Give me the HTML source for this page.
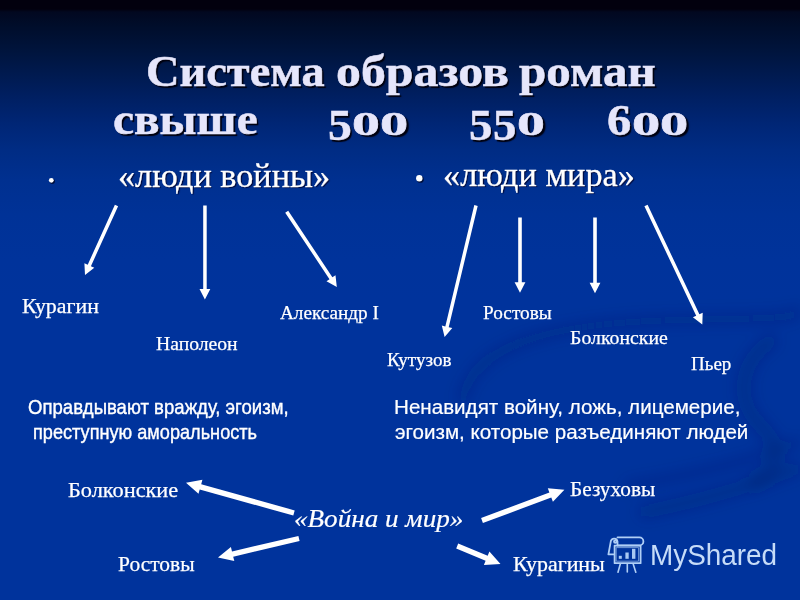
<!DOCTYPE html>
<html lang="ru">
<head>
<meta charset="utf-8">
<title>Система образов роман</title>
<style>
  html, body { margin: 0; padding: 0; }
  body {
    width: 800px; height: 600px; overflow: hidden; position: relative;
    background: linear-gradient(to bottom,#02000e 0,#02000e 9px,#020820 12px,#000d2a 25px,#00143c 50px,#001a50 75px,#002064 100px,#002676 125px,#002c84 150px,#003090 180px,#003297 215px,#00339b 260px,#00339c 300px,#00339c 600px);
    font-family: "Liberation Serif", serif;
    color: #fff;
  }
  h1, p { margin: 0; font: inherit; }
  .abs { position: absolute; white-space: nowrap; line-height: 1; }
  .title {
    font-family: "Liberation Serif", serif; font-weight: bold; font-size: 44px;
    color: #e6e6fb; -webkit-text-stroke: 0.5px #e6e6fb; text-shadow: 1.7px 1.7px 1px #00000e;
    transform-origin: 0 0;
  }
  .d5 { font-size: 45px; }
  .d0 { font-size: 34px; }
  .h2 { font-size: 34.5px; color: #fff; -webkit-text-stroke: 0.3px #fff; text-shadow: 1.2px 1.2px 1px rgba(0,0,40,0.85); transform-origin: 0 0; }
  .lbl { font-size: 19.5px; color: #fff; -webkit-text-stroke: 0.25px #fff; transform-origin: 0 0; }
  #l1 { font-size: 21px; }
  #t2a { font-size: 44px; }
  .lbl2 { font-size: 21.5px; color: #fff; -webkit-text-stroke: 0.25px #fff; transform-origin: 0 0; }
  .sans { font-family: "Liberation Sans", sans-serif; font-size: 21px; color: #fff; transform-origin: 0 0; }
  .sr { font-size: 20px; -webkit-text-stroke: 0.2px #fff; }
  #s1, #s2 { -webkit-text-stroke: 0.4px #fff; }
  .it { font-style: italic; font-size: 26px; -webkit-text-stroke: 0.2px #fff; transform-origin: 0 0; }
  .logo { font-family: "Liberation Sans", sans-serif; font-size: 29.5px; color: #c6dcf8; transform-origin: 0 0; }
  svg { position: absolute; left: 0; top: 0; }
</style>
</head>
<body>
<svg id="bg" width="800" height="600" viewBox="0 0 800 600">
  <defs>
    <filter id="blur"><feGaussianBlur stdDeviation="7"/></filter>
  </defs>
  <g fill="none" stroke="#00235f" stroke-opacity="0.26" filter="url(#blur)">
    <path d="M462 402 C 470 350, 540 322, 680 320 S 780 316, 800 312" stroke-width="10"/>
    <path d="M775 338 C 738 362, 735 400, 760 425 C 785 450, 780 470, 750 485" stroke-width="14"/>
    <path d="M800 441 C 760 458, 700 474, 625 486" stroke-width="8"/>
    <path d="M800 467 C 750 487, 700 501, 640 513" stroke-width="13"/>
  </g>
</svg>

<h1>
<span class="abs title" id="t1a" style="left:146.1px; top:50.1px; transform:scaleX(1.055);">Система</span>
<span class="abs title" id="t1b" style="left:336.3px; top:50.1px; transform:scaleX(1.133);">образов</span>
<span class="abs title" id="t1c" style="left:518.9px; top:50.1px; transform:scaleX(1.115);">роман</span>
<span class="abs title" id="t2a" style="left:113.0px; top:98.3px; transform:scaleX(1.077);">свыше</span>
<span class="num"><span class="abs title d5" id="n1" style="left:327.6px; top:103.4px; transform:scaleX(1.06);">5</span><span class="abs title d0" id="n2" style="left:352.2px; top:106.6px; transform:scaleX(1.64);">0</span><span class="abs title d0" id="n3" style="left:380.4px; top:106.6px; transform:scaleX(1.66);">0</span></span>
<span class="num"><span class="abs title d5" id="n4" style="left:468.8px; top:103.4px; transform:scaleX(1.04);">5</span><span class="abs title d5" id="n5" style="left:492.6px; top:103.4px; transform:scaleX(1.04);">5</span><span class="abs title d0" id="n6" style="left:517.2px; top:106.6px; transform:scaleX(1.64);">0</span></span>
<span class="num"><span class="abs title d5" id="n7" style="left:607.3px; top:97.6px; transform:scaleX(1.08);">6</span><span class="abs title d0" id="n8" style="left:631.6px; top:106.6px; transform:scaleX(1.66);">0</span><span class="abs title d0" id="n9" style="left:660.4px; top:106.6px; transform:scaleX(1.66);">0</span></span>
</h1>

<div class="abs h2" id="h1" style="left:117.6px; top:157.9px; transform:scaleX(0.992);">«люди войны»</div>
<div class="abs h2" id="h2" style="left:443.3px; top:157.4px; transform:scaleX(0.993);">«люди мира»</div>

<div class="abs lbl" id="l1" style="left:22.3px; top:296.0px; transform:scaleX(1.041);">Курагин</div>
<div class="abs lbl" id="l2" style="left:155.5px; top:334.4px; transform:scaleX(1.008);">Наполеон</div>
<div class="abs lbl" id="l3" style="left:280.0px; top:303.1px; transform:scaleX(0.984);">Александр I</div>
<div class="abs lbl" id="l4" style="left:387.4px; top:350.4px; transform:scaleX(0.979);">Кутузов</div>
<div class="abs lbl" id="l5" style="left:482.8px; top:303.2px; transform:scaleX(0.988);">Ростовы</div>
<div class="abs lbl" id="l6" style="left:569.5px; top:328.0px; transform:scaleX(1.016);">Болконские</div>
<div class="abs lbl" id="l7" style="left:690.5px; top:353.5px; transform:scaleX(0.976);">Пьер</div>

<p>
<span class="abs sans" id="s1" style="left:27.7px; top:395.6px; transform:scaleX(0.884);">Оправдывают вражду, эгоизм,</span>
<span class="abs sans" id="s2" style="left:33.2px; top:421.0px; transform:scaleX(0.864);">преступную аморальность</span>
</p>
<p>
<span class="abs sans sr" id="s3" style="left:393.9px; top:396.6px; transform:scaleX(1.030);">Ненавидят войну, ложь, лицемерие,</span>
<span class="abs sans sr" id="s4" style="left:395.0px; top:421.5px; transform:scaleX(1.029);">эгоизм, которые разъединяют людей</span>
</p>

<div class="abs lbl2" id="b1" style="left:68.4px; top:480.3px; transform:scaleX(1.038);">Болконские</div>
<div class="abs lbl2" id="b2" style="left:117.8px; top:554.0px; transform:scaleX(0.998);">Ростовы</div>
<div class="abs lbl2" id="b3" style="left:570.0px; top:479.1px; transform:scaleX(0.989);">Безуховы</div>
<div class="abs lbl2" id="b4" style="left:513.3px; top:553.7px; transform:scaleX(1.020);">Курагины</div>
<div class="abs it" id="wm" style="left:294.0px; top:505.9px; transform:scaleX(1.043);">«Война и мир»</div>

<div class="abs logo" id="lg" style="left:649.7px; top:539.9px; transform:scaleX(0.945);">MyShared</div>

<svg id="fg" width="800" height="600" viewBox="0 0 800 600">
  <g fill="#fff">
  <polygon points="114.9,204.8 87.7,264.7 84.4,263.2 85.0,275.0 94.3,267.7 90.9,266.2 118.1,206.2"/>
  <polygon points="203.2,205.5 203.2,289.0 199.5,289.0 204.9,299.5 210.3,289.0 206.7,289.0 206.7,205.5"/>
  <polygon points="285.2,212.7 329.5,279.2 326.5,281.2 336.8,287.0 335.5,275.3 332.4,277.3 288.2,210.7"/>
  <polygon points="474.3,205.1 445.3,326.4 441.8,325.5 444.6,337.0 452.3,328.0 448.7,327.2 477.7,205.9"/>
  <polygon points="518.2,217.5 518.2,282.2 514.6,282.2 520.0,292.7 525.4,282.2 521.8,282.2 521.8,217.5"/>
  <polygon points="593.2,217.5 593.2,282.8 589.6,282.8 595.0,293.3 600.4,282.8 596.8,282.8 596.8,217.5"/>
  <polygon points="644.4,206.2 696.2,315.8 692.9,317.3 702.3,324.5 702.7,312.7 699.4,314.3 647.6,204.8"/>
  <polygon points="294.7,510.4 201.2,484.2 202.4,479.8 186.0,482.7 198.5,493.7 199.7,489.4 293.3,515.6"/>
  <polygon points="298.4,535.9 232.0,551.4 230.9,547.0 218.0,557.5 234.3,561.1 233.2,556.7 299.6,541.1"/>
  <polygon points="482.9,523.0 551.3,497.5 552.9,501.7 564.4,489.7 547.8,488.2 549.4,492.4 481.1,518.0"/>
  <polygon points="456.2,548.5 485.6,560.7 483.9,564.9 500.5,564.0 489.4,551.5 487.7,555.7 458.2,543.5"/>
  <circle cx="52.3" cy="181.3" r="2.6" fill="#00103c"/>
  <circle cx="420.4" cy="179.4" r="3.4" fill="#00103c"/>
  <circle cx="51.3" cy="180.3" r="2.4"/>
  <circle cx="419.3" cy="178.3" r="3.2"/>
  </g>
  <g id="icon" fill="none" stroke="#b0cff6" stroke-width="1.8" stroke-linecap="round" stroke-linejoin="round">
    <path d="M617.5 537.4 H639.4 a4 4 0 0 1 0 8 H617.5"/>
    <path d="M617.5 545.4 V541.5 a3.4 3.4 0 0 0 -6.6 -0.6 L608.4 554.4 H613.6"/>
    <circle cx="615.3" cy="541.6" r="1.3"/>
    <rect x="614.6" y="545.6" width="26" height="17.6"/>
    <rect x="616.6" y="547.6" width="22" height="13.6" stroke-width="0.9" stroke-opacity="0.7"/>
    <path d="M620.3 564 L618 572.3 M627.3 564 V572 M633.2 564 L635.8 572.3" stroke-width="1.6"/>
  </g>
  <g fill="#a9c9f3">
    <rect x="618.8" y="555.8" width="3" height="3"/>
    <rect x="625.4" y="552.5" width="3.3" height="6.3"/>
    <rect x="632" y="548.8" width="3.4" height="10"/>
  </g>
</svg>
</body>
</html>
